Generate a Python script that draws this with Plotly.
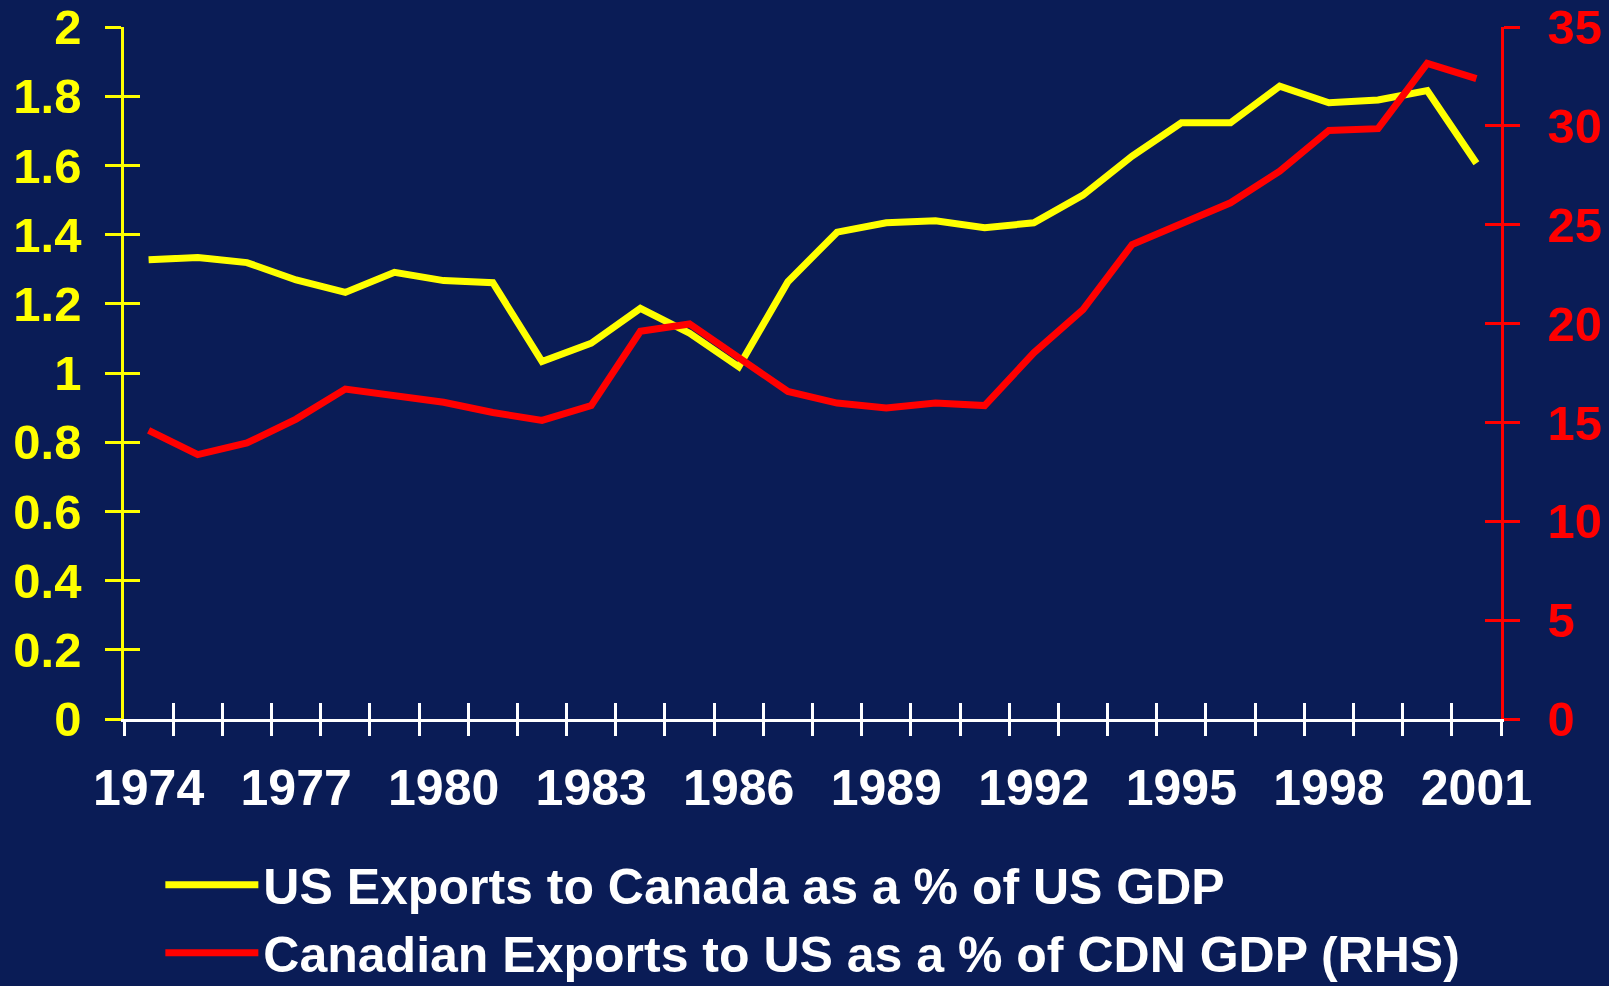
import plotly.graph_objects as go

years = list(range(1974, 2002))
label_years = [1974, 1977, 1980, 1983, 1986, 1989, 1992, 1995, 1998, 2001]

us_exports_pct_us_gdp = [1.327, 1.334, 1.319, 1.269, 1.233, 1.291, 1.267, 1.261,
                         1.033, 1.086, 1.187, 1.115, 1.018, 1.264, 1.407, 1.434,
                         1.440, 1.420, 1.434, 1.514, 1.627, 1.723, 1.723, 1.829,
                         1.781, 1.789, 1.816, 1.606]
cdn_exports_pct_cdn_gdp = [14.60, 13.37, 13.96, 15.17, 16.69, 16.35, 16.02, 15.50,
                           15.10, 15.85, 19.61, 19.98, 18.30, 16.57, 15.98, 15.73,
                           15.98, 15.85, 18.52, 20.71, 24.00, 25.01, 26.11, 27.71,
                           29.77, 29.86, 33.16, 32.39]

left_ticks = [0, 0.2, 0.4, 0.6, 0.8, 1, 1.2, 1.4, 1.6, 1.8, 2]
left_ticktext = ["0", "0.2", "0.4", "0.6", "0.8", "1", "1.2", "1.4", "1.6", "1.8", "2"]
right_ticks = [0, 5, 10, 15, 20, 25, 30, 35]

BG = "#0a1c56"
YEL = "#ffff00"
RED = "#ff0000"
WHITE = "#ffffff"
FONT = "Liberation Sans"

xrange_ = [years[0] - 0.5, years[-1] + 0.5]
boundaries = [y - 0.5 for y in years] + [years[-1] + 0.5]

fig = go.Figure()
fig.add_trace(go.Scatter(x=years, y=us_exports_pct_us_gdp, mode="lines",
                         name="US Exports to Canada as a % of US GDP",
                         line=dict(color=YEL, width=7), xaxis="x", yaxis="y"))
fig.add_trace(go.Scatter(x=years, y=cdn_exports_pct_cdn_gdp, mode="lines",
                         name="Canadian Exports to US as a % of CDN GDP (RHS)",
                         line=dict(color=RED, width=7), xaxis="x", yaxis="y2"))
# invisible helper traces so the overlaid tick-only axes get drawn
fig.add_trace(go.Scatter(x=years, y=us_exports_pct_us_gdp, mode="lines",
                         line=dict(width=0), opacity=0, showlegend=False,
                         hoverinfo="skip", xaxis="x2", yaxis="y3"))
fig.add_trace(go.Scatter(x=years, y=cdn_exports_pct_cdn_gdp, mode="lines",
                         line=dict(width=0), opacity=0, showlegend=False,
                         hoverinfo="skip", xaxis="x3", yaxis="y4"))

fig.update_layout(
    width=1609, height=986,
    paper_bgcolor=BG, plot_bgcolor=BG,
    margin=dict(l=123.5, r=107.5, t=27, b=267, autoexpand=False),
    showlegend=True,
    legend=dict(x=0.0264, y=-0.183, xanchor="left", yanchor="top",
                bgcolor="rgba(0,0,0,0)", itemwidth=93,
                font=dict(family=FONT, size=50, color=WHITE, weight="bold"),
                tracegroupgap=0),
    xaxis=dict(range=xrange_, tickmode="array", tickvals=label_years,
               ticktext=[str(y) for y in label_years], ticks="",
               showline=True, linecolor=WHITE, linewidth=2.5,
               showgrid=False, zeroline=False,
               tickfont=dict(family=FONT, size=50, color=WHITE, weight="bold"),
               ticklabelstandoff=23, anchor="y"),
    xaxis2=dict(range=xrange_, overlaying="x", anchor="y", tickmode="array",
                tickvals=boundaries, ticks="outside", ticklen=16, tickwidth=2.5,
                tickcolor=WHITE, showticklabels=False, showgrid=False,
                zeroline=False, showline=False),
    xaxis3=dict(range=xrange_, overlaying="x", anchor="y", tickmode="array",
                tickvals=boundaries, ticks="inside", ticklen=16, tickwidth=2.5,
                tickcolor=WHITE, showticklabels=False, showgrid=False,
                zeroline=False, showline=False),
    yaxis=dict(range=[0, 2], tickmode="array", tickvals=left_ticks,
               ticktext=left_ticktext, ticks="outside", ticklen=16,
               tickwidth=2.5, tickcolor=YEL, showline=True, linecolor=YEL,
               linewidth=2.5, showgrid=False, zeroline=False,
               tickfont=dict(family=FONT, size=49, color=YEL, weight="bold"),
               ticklabelstandoff=14, anchor="x"),
    yaxis3=dict(range=[0, 2], overlaying="y", side="left", anchor="x",
                tickmode="array", tickvals=left_ticks, ticks="inside",
                ticklen=16, tickwidth=2.5, tickcolor=YEL, showticklabels=False,
                showgrid=False, zeroline=False, showline=False),
    yaxis2=dict(range=[0, 35], overlaying="y", side="right", anchor="x",
                tickmode="array", tickvals=right_ticks, ticks="outside",
                ticklen=16, tickwidth=2.5, tickcolor=RED, showline=True,
                linecolor=RED, linewidth=2.5, showgrid=False, zeroline=False,
                tickfont=dict(family=FONT, size=49, color=RED, weight="bold"),
                ticklabelstandoff=18),
    yaxis4=dict(range=[0, 35], overlaying="y", side="right", anchor="x",
                tickmode="array", tickvals=right_ticks, ticks="inside",
                ticklen=16, tickwidth=2.5, tickcolor=RED, showticklabels=False,
                showgrid=False, zeroline=False, showline=False),
)

fig.write_html("out.html",
               config={"displayModeBar": False},
               post_script="document.body.style.margin='0';"
                           "document.body.style.overflow='hidden';"
                           "document.body.style.background='" + BG + "';")
